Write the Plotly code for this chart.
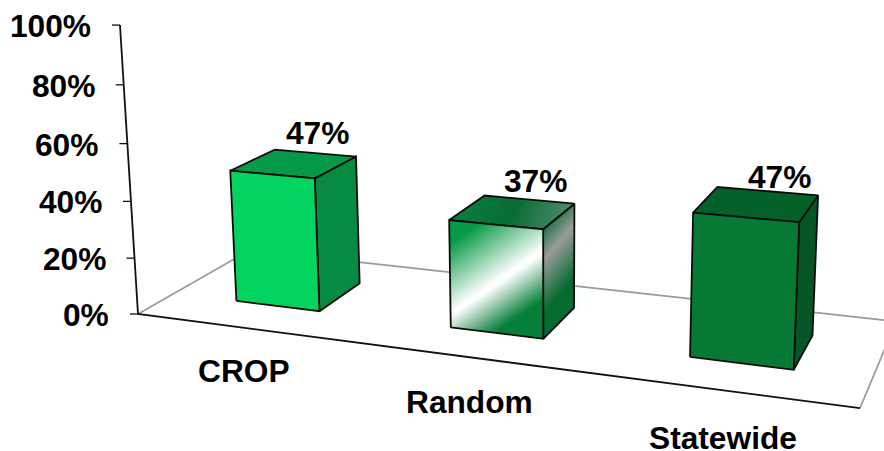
import plotly.graph_objects as go

# Chart data
categories = ["CROP", "Random", "Statewide"]
values = [47, 37, 47]
tick_values = [0, 20, 40, 60, 80, 100]
tick_labels = ["0%", "20%", "40%", "60%", "80%", "100%"]

# Perspective of the floor and value axis: (category, depth, value) -> page pixels
PROJ_X = (195.0, 143.4, -0.2305, 138.0)
PROJ_Y = (9.7, -32.4, -2.90, 314.0)
PROJ_W = (-0.0531, 0.126, -0.000419, 1.0)

BAR_START, BAR_WIDTH = 0.31, 0.40
DEPTH_FRONT, DEPTH_BACK = 0.30, 0.71
FONT = "Liberation Sans"
TEXT_SIZE = 31.7
VALUE_LIFT = [31, 31, 27]


def project(u, v, w):
    d = PROJ_W[0] * u + PROJ_W[1] * v + PROJ_W[2] * w + PROJ_W[3]
    x = PROJ_X[0] * u + PROJ_X[1] * v + PROJ_X[2] * w + PROJ_X[3]
    y = PROJ_Y[0] * u + PROJ_Y[1] * v + PROJ_Y[2] * w + PROJ_Y[3]
    return x / d, y / d


def hex_rgb(c):
    return tuple(int(c[i:i + 2], 16) for i in (1, 3, 5))


def ramp(stops, t):
    if t <= stops[0][0]:
        return stops[0][1]
    for (t0, c0), (t1, c1) in zip(stops, stops[1:]):
        if t <= t1:
            f = (t - t0) / (t1 - t0)
            a, b = hex_rgb(c0), hex_rgb(c1)
            return "rgb(%d,%d,%d)" % tuple(round(p + (q - p) * f) for p, q in zip(a, b))
    return stops[-1][1]


def clip_above(poly, fn, level):
    """Keep the part of a (s, r) polygon where fn(s, r) >= level."""
    out = []
    for i, p in enumerate(poly):
        q = poly[(i + 1) % len(poly)]
        fp, fq = fn(*p) - level, fn(*q) - level
        if fp >= 0:
            out.append(p)
        if (fp >= 0) != (fq >= 0):
            f = fp / (fp - fq)
            out.append((p[0] + (q[0] - p[0]) * f, p[1] + (q[1] - p[1]) * f))
    return out


fig = go.Figure()


def add_poly(pts, fill=None, line=None, width=0):
    xs, ys = zip(*pts)
    fig.add_trace(go.Scatter(
        x=list(xs) + [xs[0]] if fill else list(xs),
        y=list(ys) + [ys[0]] if fill else list(ys),
        mode="lines",
        fill="toself" if fill else None,
        fillcolor=fill,
        line=dict(color=line or "rgba(0,0,0,0)", width=width),
        hoverinfo="skip",
        showlegend=False,
    ))


def add_face(corner, style, steps=70):
    """corner(s, r) maps unit face coordinates to world coordinates."""
    unit = [(0, 0), (1, 0), (1, 1), (0, 1)]
    to_page = lambda s, r: project(*corner(s, r))
    if isinstance(style, str):
        add_poly([to_page(*p) for p in unit], fill=style)
    else:
        fn, stops = style
        vals = [fn(*p) for p in unit]
        lo, hi = min(vals), max(vals)
        # Each band overlaps everything after it, which hides seams between strips
        for k in range(steps):
            t0 = lo + (hi - lo) * k / steps
            t1 = lo + (hi - lo) * (k + 0.5) / steps
            poly = clip_above(unit, fn, t0)
            if len(poly) >= 3:
                add_poly([to_page(*p) for p in poly], fill=ramp(stops, t1))
    add_poly([to_page(*p) for p in unit + unit[:1]], line="#0c0c0c", width=1.8)


bar_styles = [
    {"front": "#03D35F", "top": "#07994A", "side": "#078B43"},
    {
        "front": (lambda s, r: r - (0.13 + 0.68 * s),
                  [(-0.45, "#067F3A"), (-0.02, "#FFFFFF"), (0.01, "#FFFFFF"), (0.65, "#079A46")]),
        "top": (lambda s, r: s * 0.8 + r * 0.2,
                [(0.0, "#0A8040"), (0.5, "#086C34"), (0.95, "#4A8A68")]),
        "side": (lambda s, r: r - (0.72 + 0.08 * s),
                 [(-0.5, "#056B2F"), (0.0, "#9C9C9C"), (0.25, "#2F7A50")]),
    },
    {"front": "#067A35", "top": "#05612A", "side": "#045626"},
]

# Floor outline behind the bars
far_left, far_right = project(0, 1, 0), project(3, 1, 0)
origin, near_right = project(0, 0, 0), project(3, 0, 0)
add_poly([origin, far_left, far_right, near_right], line="#9A9A9A", width=1.7)

# Value axis and category axis
add_poly([project(0, 0, 100), origin, near_right], line="#111111", width=1.8)

for tick, label in zip(tick_values, tick_labels):
    px, py = project(0, 0, tick)
    add_poly([(px - 8, py), (px, py)], line="#111111", width=1.3)
    fig.add_annotation(x=px, y=py, text=f"<b>{label}</b>", xanchor="right", yanchor="middle",
                       xshift=-27, yshift=-1, showarrow=False,
                       font=dict(family=FONT, size=TEXT_SIZE, color="#000000"))

for i, (name, value, style) in enumerate(zip(categories, values, bar_styles)):
    u0 = i + BAR_START
    u1 = u0 + BAR_WIDTH
    du = DEPTH_BACK - DEPTH_FRONT
    add_face(lambda s, r: (u1, DEPTH_FRONT + du * s, value * r), style["side"])
    add_face(lambda s, r: (u0 + BAR_WIDTH * s, DEPTH_FRONT + du * r, value), style["top"])
    add_face(lambda s, r: (u0 + BAR_WIDTH * s, DEPTH_FRONT, value * r), style["front"])

    tx, ty = project(u0 + BAR_WIDTH / 2, (DEPTH_FRONT + DEPTH_BACK) / 2, value)
    fig.add_annotation(x=tx, y=ty, text=f"<b>{value}%</b>", xanchor="center", yanchor="middle",
                       xshift=23, yshift=VALUE_LIFT[i], showarrow=False,
                       font=dict(family=FONT, size=TEXT_SIZE, color="#000000"))

    cx, cy = project(i + 0.5, 0, 0)
    fig.add_annotation(x=cx, y=cy, text=f"<b>{name}</b>", xanchor="center", yanchor="middle",
                       xshift=2, yshift=-(43 + 2.5 * i), showarrow=False,
                       font=dict(family=FONT, size=TEXT_SIZE, color="#000000"))

fig.update_layout(
    width=884,
    height=451,
    margin=dict(l=0, r=0, t=0, b=0),
    paper_bgcolor="#FFFFFF",
    plot_bgcolor="#FFFFFF",
    showlegend=False,
    xaxis=dict(range=[0, 884], visible=False, fixedrange=True),
    yaxis=dict(range=[451, 0], visible=False, fixedrange=True),
)

fig.write_html("out.html")
